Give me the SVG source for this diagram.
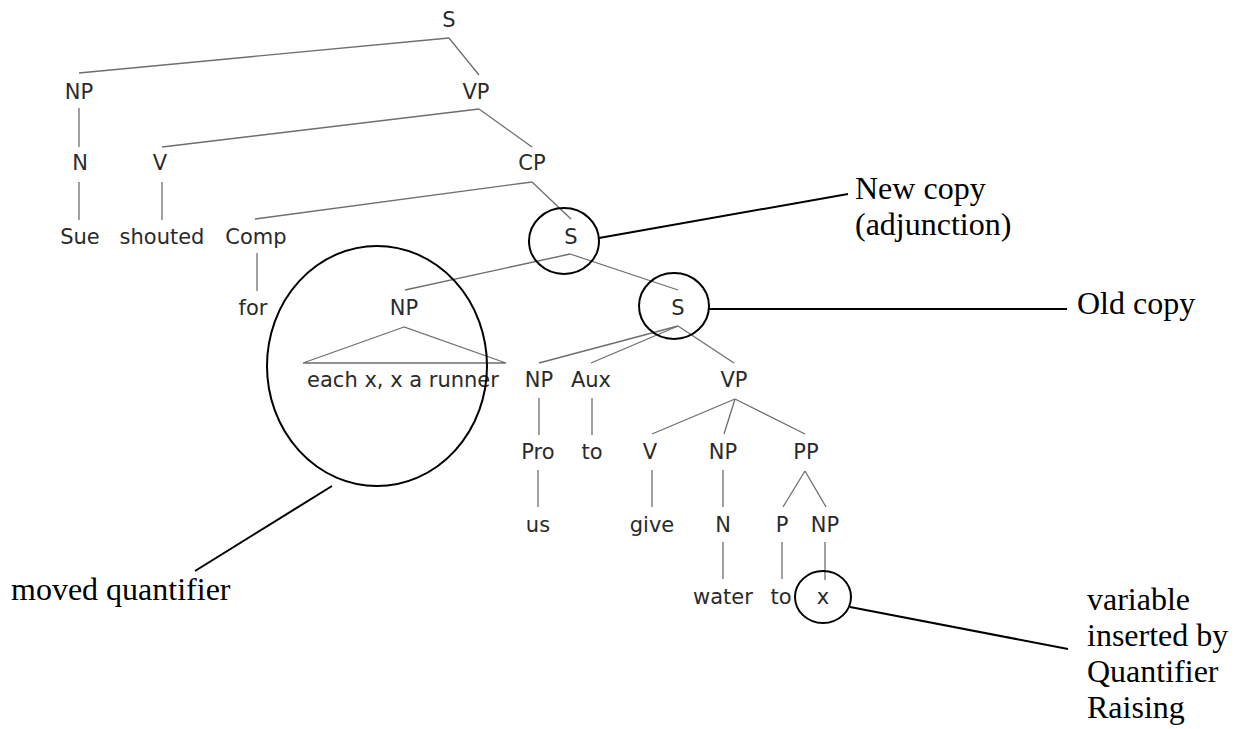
<svg xmlns="http://www.w3.org/2000/svg" width="1237" height="729" viewBox="0 0 1237 729">
<style>
.t{font-family:"DejaVu Sans",sans-serif;font-size:21px;fill:#2a2a2a;text-anchor:middle}
.a{font-family:"Liberation Serif",serif;font-size:32px;fill:#000}
.e{fill:none;stroke:#6e6e6e;stroke-width:1.3}
.m{fill:none;stroke:#000;stroke-width:2}
</style>
<rect width="1237" height="729" fill="#fff"/>
<g id="connectors" class="e">
<line x1="449" y1="38" x2="79" y2="73"/>
<line x1="449" y1="38" x2="479" y2="75"/>
<line x1="79" y1="108" x2="79" y2="147"/>
<line x1="479" y1="109" x2="162" y2="147"/>
<line x1="479" y1="109" x2="532" y2="147"/>
<line x1="79" y1="182" x2="79" y2="220"/>
<line x1="162" y1="182" x2="162" y2="220"/>
<line x1="532" y1="182" x2="255" y2="219"/>
<line x1="532" y1="182" x2="571" y2="219"/>
<line x1="257" y1="253" x2="257" y2="291"/>
<line x1="570" y1="254" x2="405" y2="290"/>
<line x1="570" y1="254" x2="678" y2="290"/>
<polygon points="404,327 303,363 506,363"/>
<line x1="678" y1="326" x2="539" y2="363"/>
<line x1="678" y1="326" x2="591" y2="363"/>
<line x1="678" y1="326" x2="734" y2="363"/>
<line x1="539" y1="398" x2="539" y2="435"/>
<line x1="592" y1="398" x2="592" y2="435"/>
<line x1="735" y1="399" x2="652" y2="434"/>
<line x1="735" y1="399" x2="724" y2="434"/>
<line x1="735" y1="399" x2="805" y2="434"/>
<line x1="538" y1="470" x2="538" y2="507"/>
<line x1="652" y1="470" x2="652" y2="507"/>
<line x1="723" y1="470" x2="723" y2="507"/>
<line x1="805" y1="471" x2="783" y2="507"/>
<line x1="805" y1="471" x2="826" y2="507"/>
<line x1="723" y1="542" x2="723" y2="579"/>
<line x1="782" y1="542" x2="782" y2="579"/>
<line x1="825" y1="542" x2="825" y2="580"/>
</g>
<g id="n-S0"><text class="t" x="449" y="27">S</text></g>
<g id="n-NP1"><text class="t" x="79" y="99">NP</text></g>
<g id="n-VP1"><text class="t" x="476" y="99">VP</text></g>
<g id="n-N1"><text class="t" x="80" y="170">N</text></g>
<g id="n-V1"><text class="t" x="160" y="170">V</text></g>
<g id="n-CP"><text class="t" x="532" y="170">CP</text></g>
<g id="n-Sue"><text class="t" x="80" y="244">Sue</text></g>
<g id="n-shouted"><text class="t" x="162" y="244">shouted</text></g>
<g id="n-Comp"><text class="t" x="256" y="244">Comp</text></g>
<g id="n-Snew"><text class="t" x="571" y="244">S</text></g>
<g id="n-for"><text class="t" x="253" y="315">for</text></g>
<g id="n-NP2"><text class="t" x="404" y="315">NP</text></g>
<g id="n-Sold"><text class="t" x="678" y="315">S</text></g>
<g id="n-each"><text class="t" x="403" y="387">each x, x a runner</text></g>
<g id="n-NP3"><text class="t" x="539" y="387">NP</text></g>
<g id="n-Aux"><text class="t" x="591" y="387">Aux</text></g>
<g id="n-VP2"><text class="t" x="734" y="387">VP</text></g>
<g id="n-Pro"><text class="t" x="538" y="459">Pro</text></g>
<g id="n-to1"><text class="t" x="592" y="459">to</text></g>
<g id="n-V2"><text class="t" x="650" y="459">V</text></g>
<g id="n-NP4"><text class="t" x="723" y="459">NP</text></g>
<g id="n-PP"><text class="t" x="806" y="459">PP</text></g>
<g id="n-us"><text class="t" x="538" y="532">us</text></g>
<g id="n-give"><text class="t" x="652" y="532">give</text></g>
<g id="n-N2"><text class="t" x="723" y="532">N</text></g>
<g id="n-P"><text class="t" x="782" y="532">P</text></g>
<g id="n-NP5"><text class="t" x="825" y="532">NP</text></g>
<g id="n-water"><text class="t" x="723" y="604">water</text></g>
<g id="n-to2"><text class="t" x="781" y="604">to</text></g>
<g id="n-x"><text class="t" x="823" y="604">x</text></g>
<g id="annotations" class="m">
<ellipse cx="564" cy="241" rx="35" ry="33"/>
<ellipse cx="674" cy="306" rx="35" ry="33"/>
<ellipse cx="377" cy="366" rx="110" ry="120"/>
<ellipse cx="823" cy="597" rx="28" ry="26"/>
<line x1="599" y1="238" x2="848" y2="194"/>
<line x1="709" y1="309" x2="1067" y2="309"/>
<line x1="332" y1="486" x2="195" y2="571"/>
<line x1="850" y1="607" x2="1068" y2="649"/>
</g>
<g id="label-new"><text class="a" x="855" y="199">New copy</text><text class="a" x="855" y="235">(adjunction)</text></g>
<g id="label-old"><text class="a" x="1077" y="314">Old copy</text></g>
<g id="label-moved"><text class="a" x="11" y="600">moved quantifier</text></g>
<g id="label-var"><text class="a" x="1087" y="610">variable</text><text class="a" x="1087" y="646">inserted by</text><text class="a" x="1087" y="682">Quantifier</text><text class="a" x="1087" y="718">Raising</text></g>
</svg>
